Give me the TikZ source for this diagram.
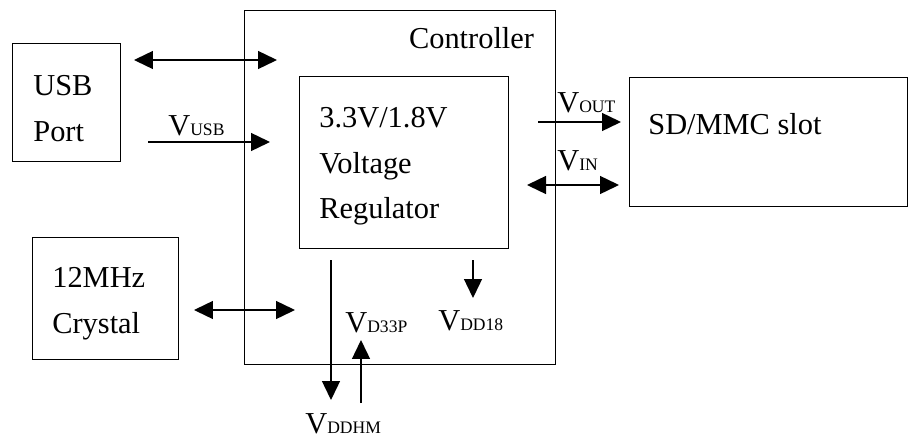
\documentclass[tikz,border=0pt]{standalone}
\usepackage{fontspec}
\setmainfont{Liberation Serif}
\usepackage{tikz}
\usetikzlibrary{arrows.meta, positioning, calc}

\newcommand{\Vsub}[1]{V{\fontsize{10}{10}\selectfont #1}}

\begin{document}
\begin{tikzpicture}[
  x=0.02cm, y=-0.02cm,
  blk/.style={rectangle, draw, line width=0.8pt, inner sep=0pt,
              anchor=north west},
  txt/.style={inner sep=0pt, anchor=north west, align=left,
              font=\fontsize{17.3}{26}\selectfont},
  lbl/.style={inner sep=0pt, anchor=north west,
              font=\fontsize{17.3}{20}\selectfont},
  arrow/.style={-{Triangle[length=0.38cm, width=0.36cm]}, line width=0.8pt},
  darrow/.style={{Triangle[length=0.38cm, width=0.36cm]}-{Triangle[length=0.38cm, width=0.36cm]},
                 line width=0.8pt}
]
\useasboundingbox (0,0) rectangle (909,439);

% Bloques
\node[blk, minimum width=2.16cm, minimum height=2.36cm] (usb)  at (12,43)  {};
\node[blk, minimum width=6.22cm, minimum height=7.08cm] (ctrl) at (244,10) {};
\node[blk, minimum width=4.18cm, minimum height=3.44cm] (reg)  at (299,76) {};
\node[blk, minimum width=2.92cm, minimum height=2.44cm] (xtal) at (32,237) {};
\node[blk, minimum width=5.56cm, minimum height=2.58cm] (sd)   at (629,77) {};

% Textos de los bloques
\node[txt] (usbtxt)  at ($(usb.north west)+(21,32)$)  {USB\\Port};
\node[txt, anchor=north east] (ctrltxt) at ($(ctrl.north east)+(-22,17)$) {Controller};
\node[txt] (regtxt)  at ($(reg.north west)+(20,31)$)  {3.3V/1.8V\\Voltage\\Regulator};
\node[txt] (xtaltxt) at ($(xtal.north west)+(20,30)$) {12MHz\\Crystal};
\node[txt] (sdtxt)   at ($(sd.north west)+(19,36)$)   {SD/MMC slot};

% Extremos de las flechas
\coordinate (usbA)   at (134,60);   \coordinate (usbB)   at (277,60);
\coordinate (vusbA)  at (148,142);  \coordinate (vusbB)  at (270,142);
\coordinate (xtalA)  at (194,310);  \coordinate (xtalB)  at (295,310);
\coordinate (voutA)  at (538,122);  \coordinate (voutB)  at (621,122);
\coordinate (vinA)   at (527,185);  \coordinate (vinB)   at (619,185);
\coordinate (hmA)    at (331,260);  \coordinate (hmB)    at (331,400);
\coordinate (d33A)   at (361,403);  \coordinate (d33B)   at (361,340);
\coordinate (d18A)   at (473,260);  \coordinate (d18B)   at (473,298);

% Flechas
\draw[darrow] (usbA) -- (usbB);
\draw[arrow]  (vusbA) -- (vusbB);
\draw[darrow] (xtalA) -- (xtalB);
\draw[arrow]  (voutA) -- (voutB);
\draw[darrow] (vinA) -- (vinB);
\draw[arrow]  (hmA) -- (hmB);
\draw[arrow]  (d33A) -- (d33B);
\draw[arrow]  (d18A) -- (d18B);

% Etiquetas de tensiones
\node[lbl] (lvusb)  at (168,115) {\Vsub{USB}};
\node[lbl] (lvout)  at (557,92)  {\Vsub{OUT}};
\node[lbl] (lvin)   at (557,150) {\Vsub{IN}};
\node[lbl] (lvd33p) at (345,312) {\Vsub{D33P}};
\node[lbl] (lvdd18) at (438,310) {\Vsub{DD18}};
\node[lbl] (lvddhm) at (305,413) {\Vsub{DDHM}};

\end{tikzpicture}
\end{document}
